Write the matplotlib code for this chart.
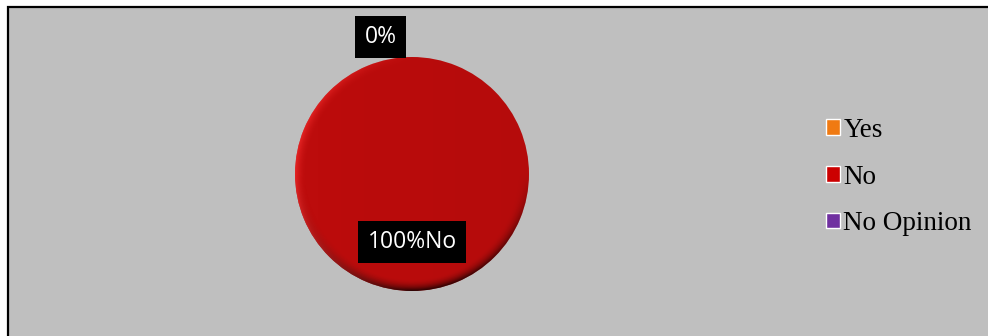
import matplotlib.pyplot as plt
from matplotlib.patches import Rectangle, Patch
import numpy as np

categories = ['Yes', 'No', 'No Opinion']
values = [0, 100, 0]
legend_colors = ['#F07A12', '#CC0000', '#7030A0']
pie_colors = ['#F07A12', '#BC0C0C', '#7030A0']

fig = plt.figure(figsize=(9.88, 3.36), dpi=100)
fig.patch.set_facecolor('white')

# grey chart area with a black frame on left and top
W, H = 988, 336
panel = Rectangle((7.5 / W, -0.05), 1.1, (H - 6.5) / H + 0.05, transform=fig.transFigure,
                  facecolor='#BFBFBF', edgecolor='black', linewidth=1.6, zorder=-1)
fig.patches.append(panel)

# pie axes, centre (412,174) px, radius 117 px
r_px = 117
half = 140
ax = fig.add_axes([(412 - half) / W, (H - 174 - half) / H, 2 * half / W, 2 * half / H])

wedges, _ = ax.pie(values, colors=pie_colors, startangle=90, counterclock=False,
                   radius=1.0, wedgeprops=dict(edgecolor='none'))
ax.set_xlim(-half / r_px, half / r_px)
ax.set_ylim(-half / r_px, half / r_px)
ax.set_aspect('equal')
ax.axis('off')

# bevel shading: darker towards the lower rim, light sheen on the left rim
gx, gy = np.meshgrid(np.linspace(-1, 1, 300), np.linspace(-1, 1, 300))
rr = np.hypot(gx, gy)
shade = np.zeros((300, 300, 4))
rim = np.clip((rr - 0.9) / 0.1, 0, 1) ** 2
shade[..., 3] = rim * np.clip(-gy, 0, 1) * 0.75 + 0.02 * (gx + 1)
big = max(values)
for w, v in zip(wedges, values):
    if v == big:
        im = ax.imshow(shade, extent=(-1, 1, -1, 1), origin='lower', zorder=2)
        im.set_clip_path(w)
        hi = np.zeros((300, 300, 4))
        hi[..., 0] = 1.0
        hi[..., 1] = 0.2
        hi[..., 2] = 0.2
        hi[..., 3] = rim * np.clip(-gx, 0, 1) * 0.6
        im2 = ax.imshow(hi, extent=(-1, 1, -1, 1), origin='lower', zorder=2)
        im2.set_clip_path(w)

lab_font = dict(family=['Open Sans', 'DejaVu Sans'], fontsize=16.5, color='white')
box = dict(boxstyle='square,pad=0.4', facecolor='black', edgecolor='none')
for w, v, name in zip(wedges, values, categories):
    mid = np.deg2rad((w.theta1 + w.theta2) / 2)
    if v == 0:
        if name != 'Yes':
            continue
        x, y = 1.17 * np.cos(mid) - 0.27, 1.17 * np.sin(mid)
        txt = '0%'
    else:
        x, y = 0.58 * np.cos(mid), 0.58 * np.sin(mid)
        txt = '%d%%%s' % (v, name)
    ax.text(x, y, txt, ha='center', va='center', bbox=box, zorder=5, **lab_font)

handles = [Patch(facecolor=c, edgecolor='white', linewidth=1.0) for c in legend_colors]
fig.legend(handles, categories, loc='center left', bbox_to_anchor=(826 / W, (H - 177) / H),
           frameon=False, prop=dict(family='Liberation Serif', size=19.5),
           handlelength=0.52, handleheight=0.52, handletextpad=0.12, labelspacing=0.8,
           borderaxespad=0, borderpad=0)

fig.savefig('out.png', dpi=100, facecolor=fig.get_facecolor())
